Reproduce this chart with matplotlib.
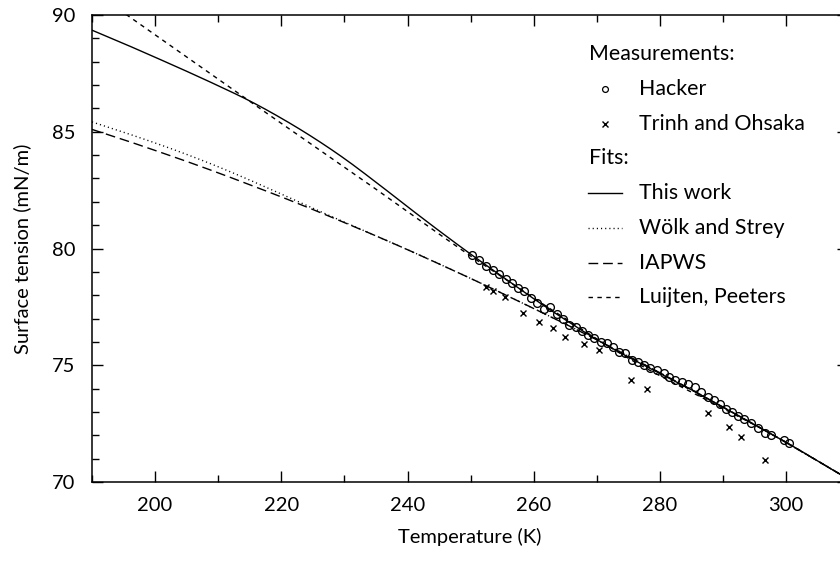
import matplotlib
matplotlib.use('Agg')
import matplotlib.pyplot as plt
import numpy as np
from matplotlib.ticker import MultipleLocator

plt.rcParams['font.family'] = ['Lato', 'DejaVu Sans']

# ---- data ----
fit_T = [190, 195, 200, 205, 210, 215, 220, 225, 230, 235, 240, 245, 250,
         255, 260, 265, 270, 275, 280, 285, 290, 295, 300, 305, 310]
this_work = [89.35, 88.78, 88.19, 87.59, 86.97, 86.32, 85.58, 84.76, 83.85, 82.84,
             81.79, 80.76, 79.76, 78.80, 77.85, 76.95, 76.10, 75.35, 74.65, 73.95,
             73.20, 72.45, 71.70, 70.90, 70.10]
wolk_strey = [85.42, 84.98, 84.52, 84.03, 83.50, 82.93, 82.33, 81.72, 81.13, 80.54,
              79.95, 79.34, 78.72, 78.08, 77.43, 76.77, 76.09, 75.39, 74.68, 73.95,
              73.21, 72.46, 71.69, 70.90, 70.11]
iapws = [85.10, 84.66, 84.20, 83.73, 83.24, 82.73, 82.21, 81.67, 81.11, 80.54,
         79.95, 79.34, 78.72, 78.08, 77.43, 76.77, 76.09, 75.39, 74.68, 73.95,
         73.21, 72.46, 71.69, 70.90, 70.11]
luijten = [91.05, 90.10, 89.15, 88.20, 87.25, 86.30, 85.36, 84.42, 83.48, 82.54,
           81.58, 80.62, 79.68, 78.78, 77.88, 77.00, 76.13, 75.30, 74.55, 73.85,
           73.15, 72.45, 71.70, 70.90, 70.10]

hacker_T = [250.2, 251.3, 252.5, 253.6, 254.5, 255.6, 256.5, 257.5, 258.5, 259.6,
            260.5, 261.7, 262.6, 263.7, 264.7, 265.6, 266.7, 267.6, 268.6, 269.6,
            270.7, 271.6, 272.5, 273.5, 274.5, 275.5, 276.5, 277.5, 278.4, 279.5,
            280.6, 281.5, 282.4, 283.5, 284.4, 285.5, 286.5, 287.6, 288.5, 289.5,
            290.4, 291.4, 292.4, 293.4, 294.5, 295.6, 296.7, 297.6, 299.6, 300.5]
hacker_s = [79.72, 79.51, 79.26, 79.08, 78.90, 78.69, 78.51, 78.32, 78.18, 77.90,
            77.68, 77.41, 77.48, 77.18, 76.98, 76.72, 76.65, 76.47, 76.30, 76.15,
            76.01, 75.94, 75.79, 75.58, 75.51, 75.22, 75.12, 75.01, 74.90, 74.80,
            74.66, 74.48, 74.37, 74.30, 74.18, 74.08, 73.87, 73.65, 73.51, 73.33,
            73.13, 73.01, 72.84, 72.70, 72.51, 72.33, 72.09, 72.01, 71.80, 71.66]

trinh_T = [252.4, 253.5, 255.5, 258.3, 260.9, 263.0, 264.9, 268.0, 270.4, 275.4,
           277.9, 287.7, 290.9, 292.9, 296.6]
trinh_s = [78.35, 78.18, 77.94, 77.22, 76.84, 76.58, 76.22, 75.91, 75.65, 74.37,
           73.98, 72.94, 72.37, 71.94, 70.94]

legend_labels = ["Hacker", "Trinh and Ohsaka", "This work", "Wölk and Strey",
                 "IAPWS", "Luijten, Peeters"]


def smooth(x, y, n=12):
    """Catmull-Rom rendering of a polyline through the read points."""
    x = np.asarray(x, float)
    y = np.asarray(y, float)
    px = np.concatenate([[2 * x[0] - x[1]], x, [2 * x[-1] - x[-2]]])
    py = np.concatenate([[2 * y[0] - y[1]], y, [2 * y[-1] - y[-2]]])
    t = np.linspace(0, 1, n, endpoint=False)[:, None]
    xs, ys = [], []
    for i in range(1, len(px) - 2):
        for p, out in ((px, xs), (py, ys)):
            p0, p1, p2, p3 = p[i - 1], p[i], p[i + 1], p[i + 2]
            v = 0.5 * ((2 * p1) + (-p0 + p2) * t + (2 * p0 - 5 * p1 + 4 * p2 - p3) * t ** 2
                       + (-p0 + 3 * p1 - 3 * p2 + p3) * t ** 3)
            out.append(v.ravel())
    xs.append([x[-1]])
    ys.append([y[-1]])
    return np.concatenate(xs), np.concatenate(ys)


# ---- figure ----
W, H = 840, 561
fig = plt.figure(figsize=(W / 100, H / 100), dpi=100)
L, R, T, B = 92, 848, 15, 482
ax = fig.add_axes([L / W, 1 - B / H, (R - L) / W, (B - T) / H])

lw = 1.0
ax.plot(*smooth(fit_T, this_work), color='black', lw=lw, ls='-')
ax.plot(*smooth(fit_T, wolk_strey), color='black', lw=lw, ls=(0, (0.8, 2.2)))
ax.plot(*smooth(fit_T, iapws), color='black', lw=lw, ls=(0, (7, 3.5)))
ax.plot(*smooth(fit_T, luijten), color='black', lw=lw, ls=(0, (3.2, 3.2)))

ax.plot(hacker_T, hacker_s, ls='none', marker='o', ms=5.6, mfc='none',
        mec='black', mew=0.95)
ax.plot(trinh_T, trinh_s, ls='none', marker='x', ms=4.6, color='black', mew=1.0)

ax.set_xlim(190, 190 + (R - L) / 6.31)
ax.set_ylim(70, 90)
ax.xaxis.set_major_locator(MultipleLocator(20))
ax.xaxis.set_minor_locator(MultipleLocator(10))
ax.yaxis.set_major_locator(MultipleLocator(5))
ax.yaxis.set_minor_locator(MultipleLocator(1))
ax.tick_params(which='both', direction='in', top=True, right=True,
               width=1.0, labelsize=14.5, colors='black')
ax.tick_params(which='major', length=8)
ax.tick_params(which='minor', length=5)
ax.tick_params(axis='y', which='major', pad=12)
ax.tick_params(axis='x', which='major', pad=11)
for s in ax.spines.values():
    s.set_linewidth(1.1)
ax.set_xlabel("Temperature (K)", fontsize=14.5, labelpad=10)
ax.set_ylabel("Surface tension (mN/m)", fontsize=14.5, labelpad=15)

# ---- manual legend (in axes coordinates) ----
def fx(px):
    return (px - L) / (R - L)

def fy(py):
    return (B - py) / (B - T)

rows = [53.5, 89, 124, 158.5, 193.3, 228, 262.7, 297.3]
fs = 15.4
ax.text(fx(589), fy(rows[0]), "Measurements:", transform=ax.transAxes,
        va='center', ha='left', fontsize=fs)
ax.text(fx(589), fy(rows[3]), "Fits:", transform=ax.transAxes,
        va='center', ha='left', fontsize=fs)
item_rows = [rows[1], rows[2], rows[4], rows[5], rows[6], rows[7]]
for lab, r in zip(legend_labels, item_rows):
    ax.text(fx(639), fy(r), lab, transform=ax.transAxes, va='center',
            ha='left', fontsize=fs)

ax.plot([fx(605)], [fy(rows[1])], transform=ax.transAxes, ls='none', marker='o',
        ms=4.2, mfc='none', mec='black', mew=0.9)
ax.plot([fx(605)], [fy(rows[2])], transform=ax.transAxes, ls='none', marker='x',
        ms=3.8, color='black', mew=1.0)
styles = ['-', (0, (0.8, 2.2)), (0, (7, 3.5)), (0, (3.2, 3.2))]
for st, r in zip(styles, rows[4:]):
    ax.plot([fx(588), fx(622)], [fy(r), fy(r)], transform=ax.transAxes,
            color='black', lw=lw, ls=st)

fig.savefig("out.png", dpi=100)
